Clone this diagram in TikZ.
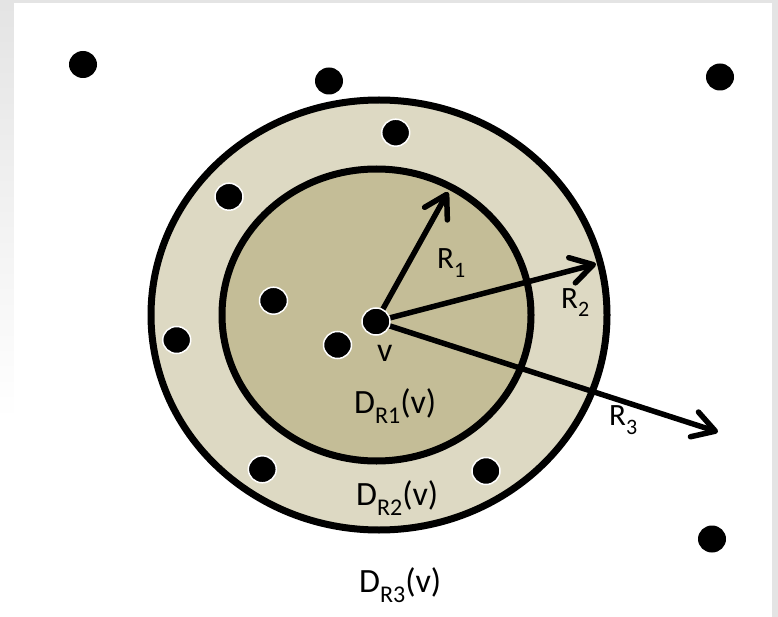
\documentclass[tikz,border=0pt]{standalone}
\usepackage{fontspec}
\setmainfont{Carlito}
\usetikzlibrary{arrows.meta,shapes.geometric}
\definecolor{ringout}{HTML}{DDD9C3}
\definecolor{ringin}{HTML}{C4BD97}
\definecolor{framegray}{HTML}{E4E4E4}
\newcommand\dlab[1]{\fontsize{34}{34}\selectfont D\raisebox{-10pt}{\fontsize{24}{24}\selectfont #1}(v)}
\newcommand\rlab[1]{\fontsize{31}{31}\selectfont R\raisebox{-9pt}{\fontsize{22}{22}\selectfont #1}}
\begin{document}
\begin{tikzpicture}[x=1pt,y=-1pt,
  dot/.style={ellipse,fill=black,inner sep=0pt,minimum width=28pt,minimum height=27pt},
  dotw/.style={dot,draw=white,line width=1.5pt},
  ringline/.style={draw=black,line width=7pt},
  radius arrow/.style={line width=5.5pt,line cap=round,
    -{Straight Barb[length=22pt,width=26pt,line cap=round,line join=round]}},
  lab/.style={anchor=base west,inner sep=0pt}]
\useasboundingbox (0,0) rectangle (778,617);
% frame
\fill[framegray] (0,0) rectangle (778,617);
\shade[top color=framegray,bottom color=white] (0,3) rectangle (14,420);
\fill[white] (0,420) rectangle (14,617);
\fill[white] (14,3) rectangle (772,617);
% discs
\filldraw[ringline,fill=ringout] (379,315) ellipse [x radius=228, y radius=215];
\filldraw[ringline,fill=ringin] (376.5,315) ellipse [x radius=154.5, y radius=146];
% arrows
\coordinate (vc) at (376,321.5);
\coordinate (t1) at (448,192);
\coordinate (t2) at (596,264);
\coordinate (t3) at (718,432);
\draw[radius arrow] (vc) -- (t1);
\draw[radius arrow] (vc) -- (t2);
\draw[radius arrow] (vc) -- (t3);
% points
\node[dot] (p1) at (83,64.5) {};
\node[dot] (p2) at (329,81) {};
\node[dot] (p3) at (720,77) {};
\node[dot] (p4) at (712,539) {};
\node[dotw] (p5) at (395.7,132.7) {};
\node[dotw] (p6) at (229,196.7) {};
\node[dotw] (p7) at (273.5,300.7) {};
\node[dotw] (p8) at (176.7,340) {};
\node[dotw] (p9) at (337.5,345) {};
\node[dotw] (p10) at (262.3,469.3) {};
\node[dotw] (p11) at (486,471) {};
\node[dotw] (v) at (vc) {};
% labels
\node[lab] (lv) at (377,361) {\fontsize{34}{34}\selectfont v};
\node[lab] (lr1) at (437,269) {\rlab{1}};
\node[lab] (lr2) at (561,308) {\rlab{2}};
\node[lab] (lr3) at (609,425) {\rlab{3}};
\node[lab] (ld1) at (354,413) {\dlab{R1}};
\node[lab] (ld2) at (356,505) {\dlab{R2}};
\node[lab] (ld3) at (359,592) {\dlab{R3}};
\end{tikzpicture}
\end{document}
